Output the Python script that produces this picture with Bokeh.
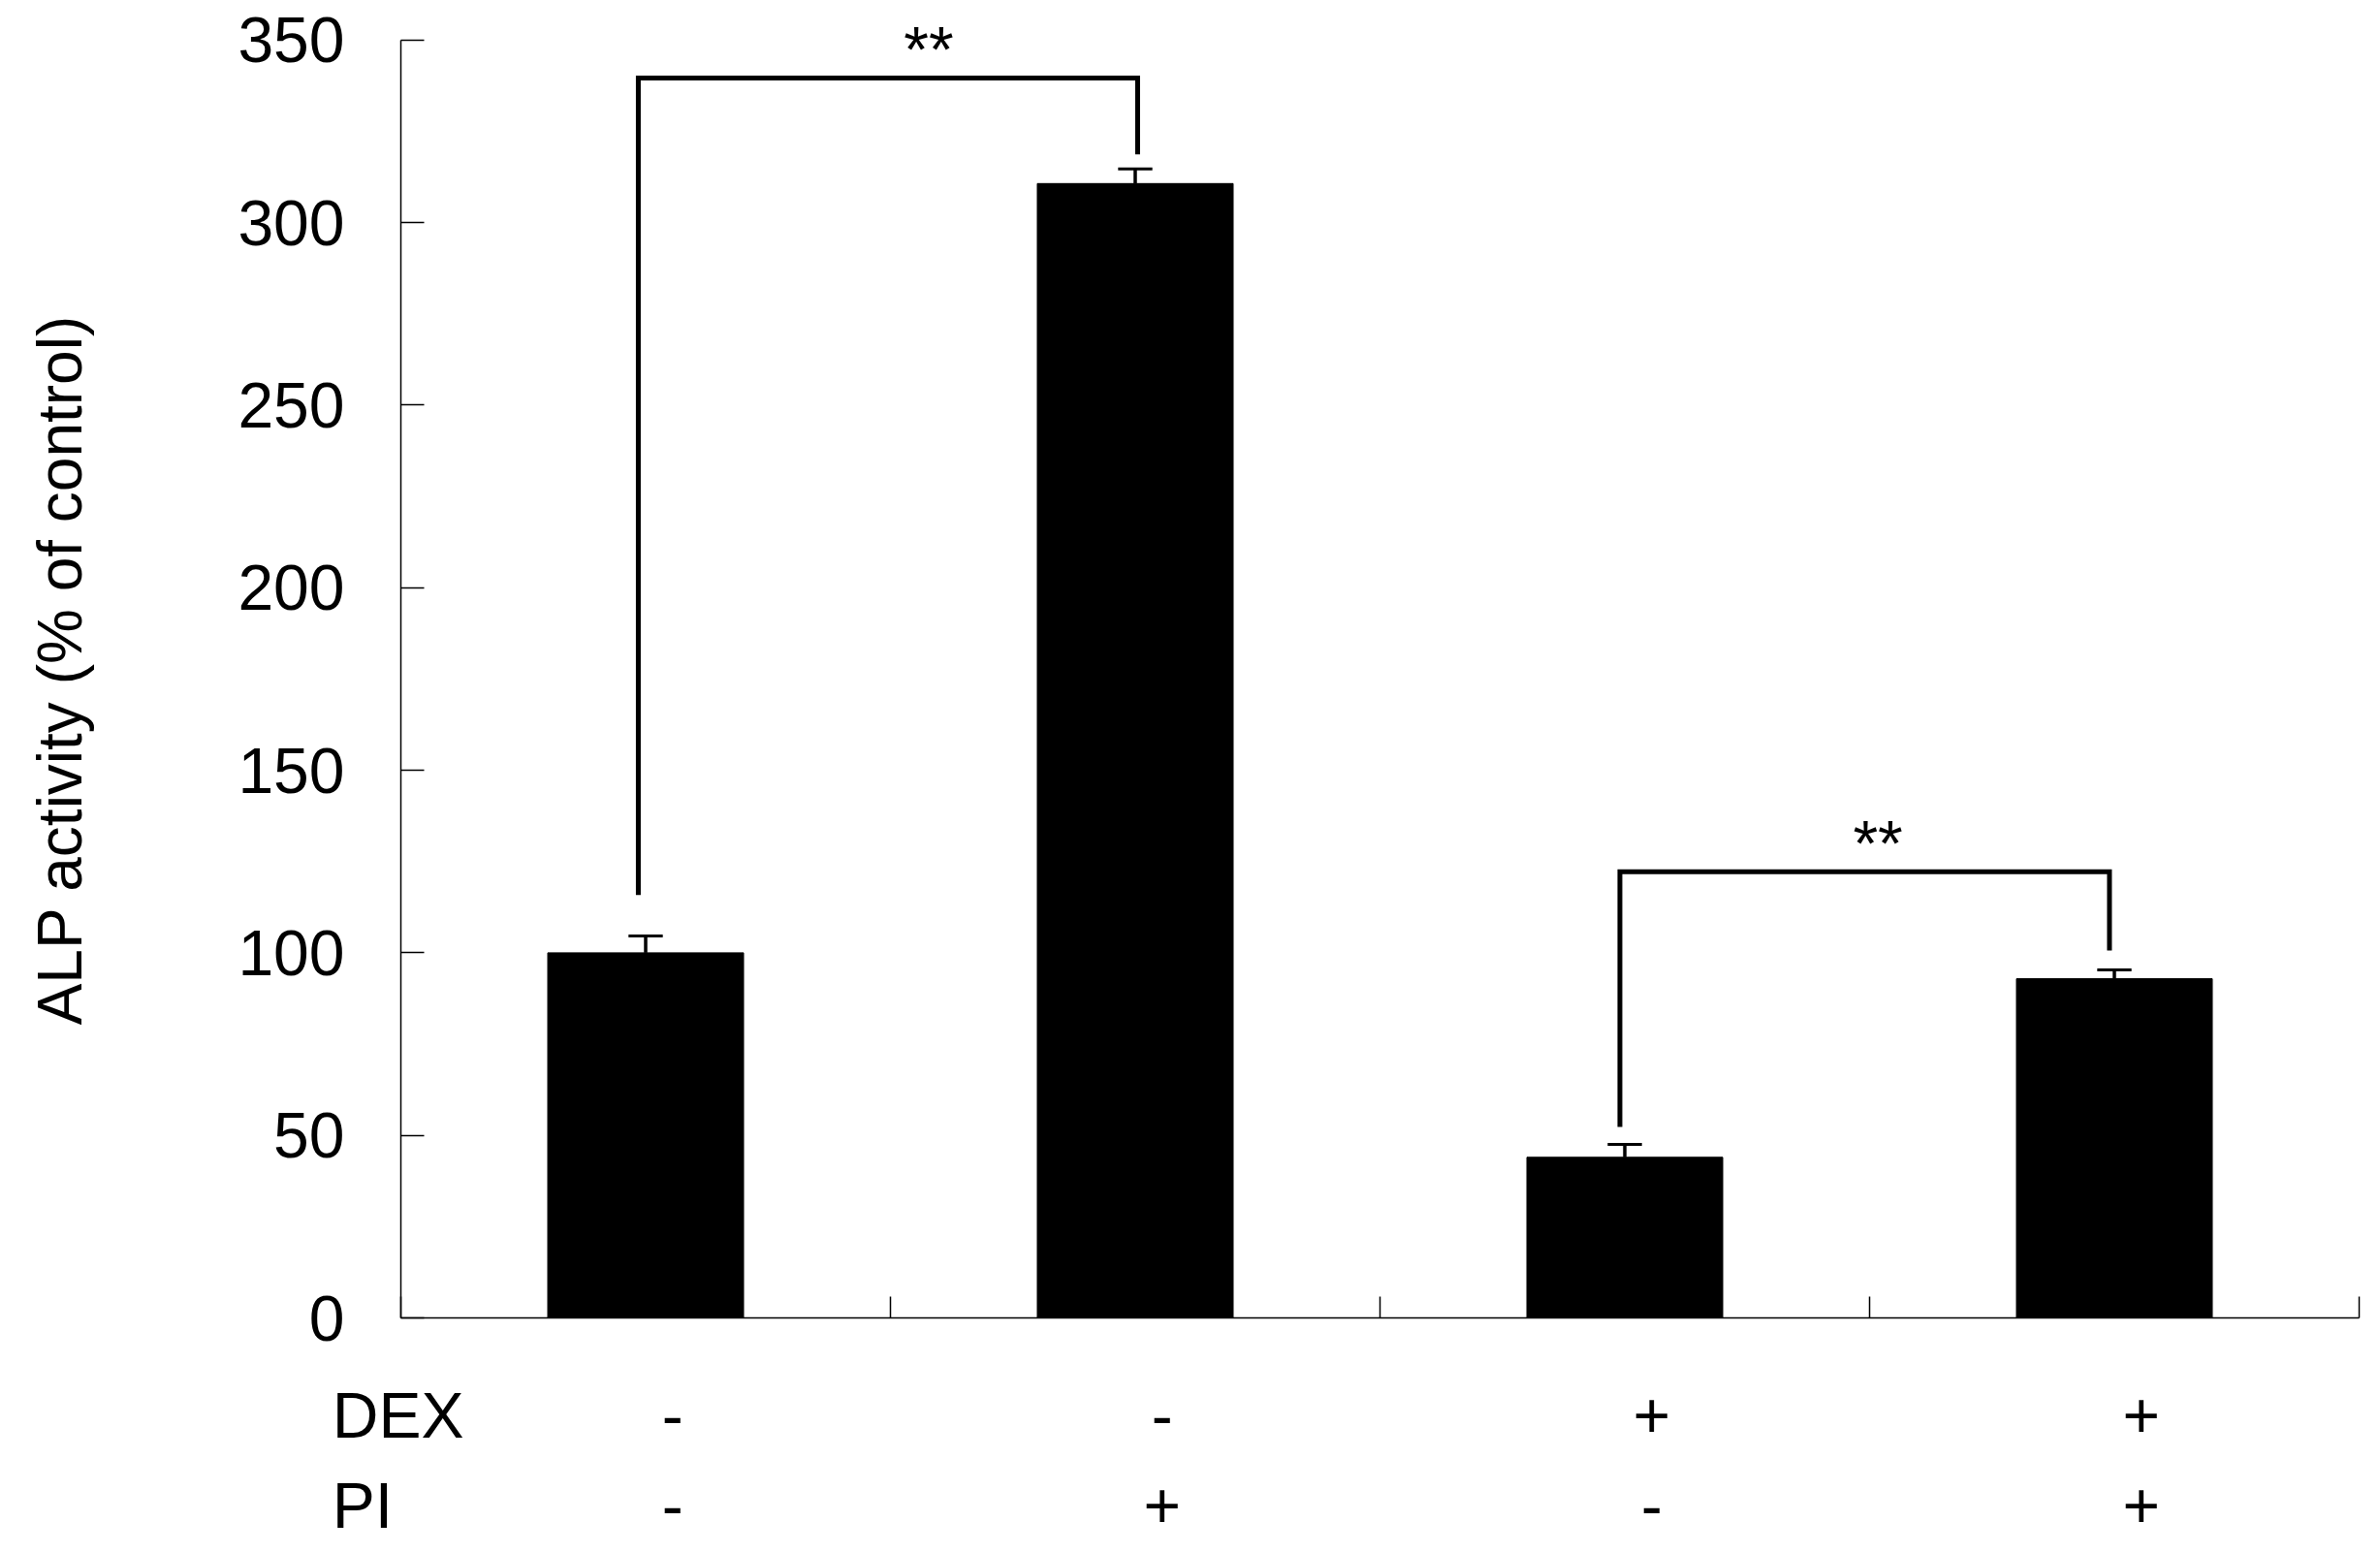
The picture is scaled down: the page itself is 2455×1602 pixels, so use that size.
from bokeh.plotting import figure
from bokeh.models import Range1d, FixedTicker
from bokeh.layouts import column
from bokeh.core.properties import value
from bokeh.embed import file_html
from bokeh.resources import INLINE

# ---- data ----
groups = ["DEX- PI-", "DEX- PI+", "DEX+ PI-", "DEX+ PI+"]
alp_mean = [100.0, 310.7, 44.0, 92.9]
alp_err = [4.6, 4.0, 3.5, 2.4]
dex_labels = ["-", "-", "+", "+"]
pi_labels = ["-", "+", "-", "+"]
row_names = ["DEX", "PI"]
y_ticks = [0, 50, 100, 150, 200, 250, 300, 350]
x_ticks = [0, 1, 2, 3, 4]
# significance brackets: left x, right x, left foot, right foot, top
sig_x0 = [0.485, 2.49]
sig_x1 = [1.505, 3.49]
sig_y0 = [115.8, 52.3]
sig_y1 = [318.7, 100.6]
sig_top = [339.6, 122.2]
sig_text = ["**", "**"]
sig_text_x = [1.078, 3.017]
sig_text_y = [347.5, 130.0]

FONT = "Liberation Sans"
FS = "66px"

centers = [i + 0.5 for i in range(len(groups))]
upper = [m + e for m, e in zip(alp_mean, alp_err)]

W = 2447
LEFT = 413
RIGHT = 14
cat_px = (W - LEFT - RIGHT) / 4.0

p = figure(width=W, height=1399,
           x_range=Range1d(0, 4), y_range=Range1d(0, 355),
           output_backend="svg", toolbar_location=None,
           min_border_left=LEFT, min_border_right=RIGHT,
           min_border_top=22, min_border_bottom=40)
p.frame_align = False
p.outline_line_color = None
p.xgrid.visible = False
p.ygrid.visible = False

# y axis
p.yaxis.ticker = FixedTicker(ticks=y_ticks)
p.yaxis.bounds = (0, 350)
p.yaxis.minor_tick_line_color = None
p.yaxis.major_tick_in = 24
p.yaxis.major_tick_out = 0
p.yaxis.major_tick_line_width = 1.5
p.yaxis.axis_line_width = 1.5
p.yaxis.axis_line_color = "black"
p.yaxis.major_tick_line_color = "black"
p.yaxis.major_label_text_font = FONT
p.yaxis.major_label_text_font_size = FS
p.yaxis.major_label_text_color = "black"
p.yaxis.major_label_standoff = 58
p.yaxis.axis_label = "ALP activity (% of control)"
p.yaxis.axis_label_text_font = FONT
p.yaxis.axis_label_text_font_size = "64px"
p.yaxis.axis_label_text_font_style = "normal"
p.yaxis.axis_label_text_color = "black"
p.yaxis.axis_label_standoff = 144

# x axis
p.xaxis.ticker = FixedTicker(ticks=x_ticks)
p.xaxis.bounds = (0, 4)
p.xaxis.minor_tick_line_color = None
p.xaxis.major_tick_in = 22
p.xaxis.major_tick_out = 0
p.xaxis.major_tick_line_width = 1.5
p.xaxis.axis_line_width = 1.5
p.xaxis.axis_line_color = "black"
p.xaxis.major_tick_line_color = "black"
p.xaxis.major_label_overrides = {t: "" for t in x_ticks}
p.xaxis.major_label_text_font_size = "10px"

# bars
p.vbar(x=centers, top=alp_mean, width=0.4, bottom=0,
       fill_color="black", line_color="black", line_width=1)

# error bars (upper only)
p.segment(x0=centers, y0=alp_mean, x1=centers, y1=upper,
          line_color="black", line_width=3.5)
p.segment(x0=[c - 0.035 for c in centers], y0=upper,
          x1=[c + 0.035 for c in centers], y1=upper,
          line_color="black", line_width=3)

# significance brackets
xs = [[a, a, b, b] for a, b in zip(sig_x0, sig_x1)]
ys = [[y0, t, t, y1] for y0, y1, t in zip(sig_y0, sig_y1, sig_top)]
p.multi_line(xs=xs, ys=ys, line_color="black", line_width=5, line_join="miter")
p.text(x=sig_text_x, y=sig_text_y, text=sig_text, text_font=value(FONT),
       text_font_size=FS, text_align="center", text_baseline="alphabetic",
       text_color="black")

# ---- treatment rows below the axis (second panel, same x scale) ----
y_per_px = 350.0 / (1359 - 41)
p2_h = 195
p2 = figure(width=W, height=p2_h,
            x_range=Range1d(-LEFT / cat_px, 4 + RIGHT / cat_px),
            y_range=Range1d(-(40 + p2_h) * y_per_px, -40 * y_per_px),
            output_backend="svg", toolbar_location=None,
            x_axis_location=None, y_axis_location=None,
            min_border_left=0, min_border_right=0,
            min_border_top=0, min_border_bottom=0)
p2.frame_align = False
p2.outline_line_color = None
p2.grid.visible = False

ROW_Y = [-26.8, -51.3]
p2.text(x=[-0.14, -0.14], y=ROW_Y, text=row_names, text_font=value(FONT),
        text_font_size=FS, text_align="left", text_baseline="alphabetic",
        text_color="black")
lab_x = [c + 0.055 for c in centers]
p2.text(x=lab_x, y=[ROW_Y[0]] * 4, text=dex_labels, text_font=value(FONT),
        text_font_size=FS, text_align="center", text_baseline="alphabetic",
        text_color="black")
p2.text(x=lab_x, y=[ROW_Y[1]] * 4, text=pi_labels, text_font=value(FONT),
        text_font_size=FS, text_align="center", text_baseline="alphabetic",
        text_color="black")

layout = column(p, p2, spacing=0)
open("out.html", "w").write(file_html(layout, INLINE))
